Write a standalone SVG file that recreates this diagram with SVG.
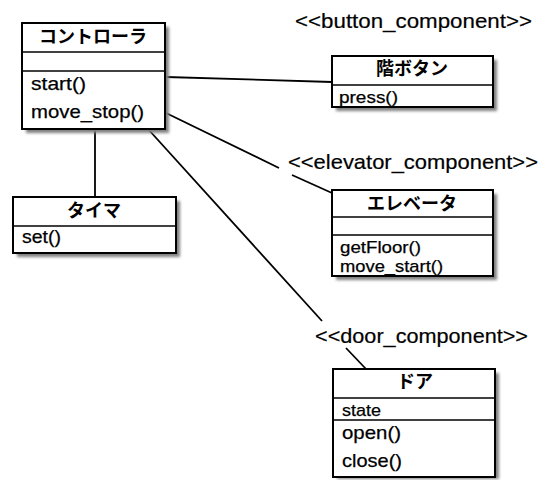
<svg xmlns="http://www.w3.org/2000/svg" width="539" height="480" viewBox="0 0 539 480">
  <style>
    .box { fill: #fff; stroke: #000; stroke-width: 2; }
    .shadow { fill: #808080; filter: url(#soft); }
    .div { stroke: #000; stroke-width: 1.6; }
    .title { font-family: "Noto Sans CJK JP", "Liberation Sans", sans-serif; font-weight: bold; font-size: 18px; text-anchor: middle; fill: #000; }
    .op { font-family: "Liberation Sans", Arial, sans-serif; font-size: 19px; fill: #000; stroke: #000; stroke-width: 0.25; }
    .op.small { font-size: 17px; }
    .stereo { font-family: "Liberation Sans", Arial, sans-serif; font-size: 21px; fill: #000; stroke: #000; stroke-width: 0.2; }
    .link { stroke: #000; stroke-width: 1.8; fill: none; }
  </style>
  <defs>
    <filter id="soft" x="-10%" y="-10%" width="120%" height="120%">
      <feGaussianBlur stdDeviation="1.8"/>
    </filter>
  </defs>

  <!-- associations -->
  <g id="connectors">
    <line class="link" x1="166" y1="77" x2="332" y2="82"/>
    <line class="link" x1="95" y1="129" x2="95" y2="197"/>
    <line class="link" x1="166" y1="113" x2="279" y2="168"/>
    <line class="link" x1="292" y1="175" x2="332" y2="193"/>
    <line class="link" x1="148" y1="129" x2="322" y2="321"/>
    <line class="link" x1="346" y1="348" x2="366" y2="369"/>
  </g>

  <!-- controller class -->
  <g id="controller">
    <rect class="shadow" x="26" y="27" width="143" height="106"/>
    <rect class="box" x="22" y="23" width="143" height="106"/>
    <line class="div" x1="22" y1="52" x2="165" y2="52"/>
    <line class="div" x1="22" y1="71" x2="165" y2="71"/>
    <text class="title" x="93" y="43">コントローラ</text>
    <text class="op" x="31" y="90" textLength="55" lengthAdjust="spacingAndGlyphs">start()</text>
    <text class="op" x="31" y="118" textLength="113" lengthAdjust="spacingAndGlyphs">move_stop()</text>
  </g>

  <!-- floor button class -->
  <g id="floor-button">
    <text class="stereo" x="295" y="28" textLength="237" lengthAdjust="spacingAndGlyphs">&lt;&lt;button_component&gt;&gt;</text>
    <rect class="shadow" x="336" y="60" width="161" height="51"/>
    <rect class="box" x="332" y="56" width="161" height="51"/>
    <line class="div" x1="332" y1="85" x2="493" y2="85"/>
    <text class="title" x="412" y="75">階ボタン</text>
    <text class="op small" x="339" y="103" textLength="59" lengthAdjust="spacingAndGlyphs">press()</text>
  </g>

  <!-- timer class -->
  <g id="timer">
    <rect class="shadow" x="17" y="201" width="163" height="56"/>
    <rect class="box" x="13" y="197" width="163" height="56"/>
    <line class="div" x1="13" y1="226" x2="176" y2="226"/>
    <text class="title" x="94" y="217">タイマ</text>
    <text class="op" x="22" y="243" textLength="39" lengthAdjust="spacingAndGlyphs">set()</text>
  </g>

  <!-- elevator class -->
  <g id="elevator">
    <text class="stereo" x="288" y="169" textLength="250" lengthAdjust="spacingAndGlyphs">&lt;&lt;elevator_component&gt;&gt;</text>
    <rect class="shadow" x="336" y="194" width="161" height="86"/>
    <rect class="box" x="332" y="190" width="161" height="86"/>
    <line class="div" x1="332" y1="217" x2="493" y2="217"/>
    <line class="div" x1="332" y1="235" x2="493" y2="235"/>
    <text class="title" x="412" y="210">エレベータ</text>
    <text class="op small" x="340" y="253" textLength="81" lengthAdjust="spacingAndGlyphs">getFloor()</text>
    <text class="op small" x="340" y="272" textLength="103" lengthAdjust="spacingAndGlyphs">move_start()</text>
  </g>

  <!-- door class -->
  <g id="door">
    <text class="stereo" x="315" y="343" textLength="213" lengthAdjust="spacingAndGlyphs">&lt;&lt;door_component&gt;&gt;</text>
    <rect class="shadow" x="337" y="373" width="162" height="106"/>
    <rect class="box" x="333" y="369" width="162" height="108"/>
    <line class="div" x1="333" y1="398" x2="495" y2="398"/>
    <line class="div" x1="333" y1="420" x2="495" y2="420"/>
    <text class="title" x="415" y="388">ドア</text>
    <text class="op small" x="342" y="416" textLength="39" lengthAdjust="spacingAndGlyphs">state</text>
    <text class="op" x="342" y="439" textLength="59" lengthAdjust="spacingAndGlyphs">open()</text>
    <text class="op" x="342" y="467" textLength="60" lengthAdjust="spacingAndGlyphs">close()</text>
  </g>
</svg>
